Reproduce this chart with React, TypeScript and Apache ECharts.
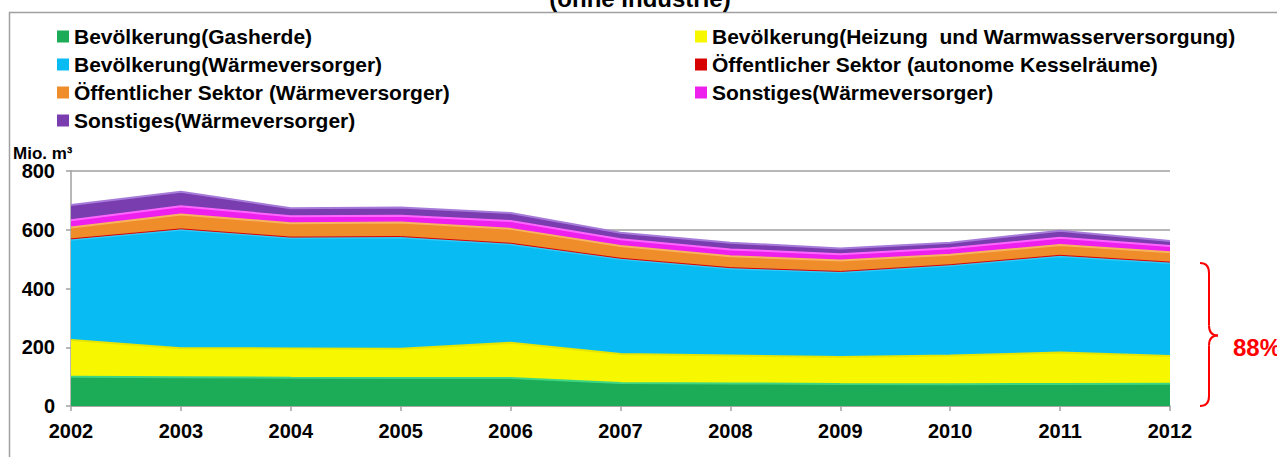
import React, { useEffect, useRef } from "react";
import * as echarts from "echarts";

const years = ["2002", "2003", "2004", "2005", "2006", "2007", "2008", "2009", "2010", "2011", "2012"];
const gasherde = [100, 98, 96, 95, 95, 78, 77, 75, 74, 75, 76];
const heizung = [125, 99, 100, 100, 120, 99, 95, 92, 98, 107, 94];
const waermeBev = [341, 403, 376, 379, 336, 323, 296, 288, 306, 328, 317];
const kessel = [3, 3, 3, 3, 3, 3, 3, 3, 3, 3, 3];
const waermeOeff = [39, 49, 47, 48, 49, 42, 39, 37, 34, 35, 33];
const sonstigesA = [24, 28, 24, 23, 27, 23, 23, 22, 22, 25, 22];
const sonstigesB = [52, 49, 27, 28, 27, 22, 23, 19, 19, 24, 17];
const yTicks = [0, 200, 400, 600, 800];

const N_GAS = "Bevölkerung(Gasherde)";
const N_HEIZ = "Bevölkerung(Heizung  und Warmwasserversorgung)";
const N_BLUE = "Bevölkerung(Wärmeversorger)";
const N_RED = "Öffentlicher Sektor (autonome Kesselräume)";
const N_ORANGE = "Öffentlicher Sektor (Wärmeversorger)";
const N_MAG = "Sonstiges(Wärmeversorger)";
const N_PUR = "Sonstiges(Wärmeversorger)#2";

const FONT = "'Liberation Sans', Arial, sans-serif";

export default function App() {
  const ref = useRef<HTMLDivElement>(null);
  useEffect(() => {
    const chart = echarts.init(ref.current!, null, { renderer: "svg" });
    const mk = (name: string, data: number[], color: string, lineColor: string, lw = 2) => ({
      name,
      type: "line",
      stack: "total",
      data,
      symbol: "none",
      showSymbol: false,
      silent: true,
      lineStyle: { color: lineColor, width: lw },
      areaStyle: { color, opacity: 1 },
      itemStyle: { color },
      emphasis: { disabled: true },
    });
    const legendCommon = {
      orient: "vertical",
      icon: "rect",
      itemWidth: 12,
      itemHeight: 12,
      itemGap: 7,
      selectedMode: false,
      formatter: (n: string) => n.replace(/#\d$/, ""),
      textStyle: { fontFamily: FONT, fontSize: 21, fontWeight: "bold", color: "#000", lineHeight: 21 },
    };
    const axisColor = "#a0a0a0";
    chart.setOption({
      animation: false,
      backgroundColor: "#ffffff",
      textStyle: { fontFamily: FONT },
      grid: { left: 71, right: 107, top: 171, bottom: 51, containLabel: false },
      legend: [
        { ...legendCommon, left: 52, top: 21, data: [N_GAS, N_BLUE, N_ORANGE, N_PUR] },
        { ...legendCommon, left: 690, top: 21, data: [N_HEIZ, N_RED, N_MAG] },
      ],
      xAxis: {
        type: "category",
        data: years,
        boundaryGap: false,
        axisLine: { lineStyle: { color: axisColor, width: 1.5 } },
        axisTick: { show: true, length: 5, lineStyle: { color: axisColor, width: 1.5 } },
        axisLabel: { color: "#000", fontWeight: "bold", fontSize: 20, margin: 15, fontFamily: FONT },
        splitLine: { show: false },
      },
      yAxis: {
        type: "value",
        min: yTicks[0],
        max: yTicks[yTicks.length - 1],
        interval: 200,
        axisLine: { show: true, lineStyle: { color: axisColor, width: 1.5 } },
        axisTick: { show: true, length: 5, lineStyle: { color: axisColor, width: 1.5 } },
        axisLabel: { color: "#000", fontWeight: "bold", fontSize: 20, margin: 16, fontFamily: FONT },
        splitLine: { show: true, lineStyle: { color: axisColor, width: 1.5 } },
      },
      series: [
        mk(N_GAS, gasherde, "#1cab57", "#3fd683"),
        mk(N_HEIZ, heizung, "#f7f700", "#e6e600"),
        mk(N_BLUE, waermeBev, "#08bcf3", "#30caf8"),
        mk(N_RED, kessel, "#d60000", "#e00000", 1),
        mk(N_ORANGE, waermeOeff, "#ee8d2a", "#f8b45c"),
        mk(N_MAG, sonstigesA, "#ee20ee", "#ff66ff"),
        mk(N_PUR, sonstigesB, "#7a3db0", "#a67ad8"),
      ],
    });

    const last = years.length - 1;
    const baseTop = gasherde[last] + heizung[last] + waermeBev[last];
    const total = baseTop + kessel[last] + waermeOeff[last] + sonstigesA[last] + sonstigesB[last];
    const pct = Math.round((baseTop / total) * 100 + 1.3);
    const yTop = chart.convertToPixel({ yAxisIndex: 0 }, baseTop) as number;
    const yBot = chart.convertToPixel({ yAxisIndex: 0 }, 0) as number;
    const xEnd = chart.convertToPixel({ xAxisIndex: 0 }, years[last]) as number;
    const x0 = xEnd + 30;
    const xm = x0 + 9;
    const xt = x0 + 18;
    const ym = (yTop + yBot) / 2 + 1;
    const r = 10;
    const bs = { stroke: "#ff0000", lineWidth: 2, fill: "none" };

    chart.setOption({
      graphic: [
        {
          type: "rect",
          z: -10,
          shape: { x: 9.5, y: 12.5, width: 1500, height: 700 },
          style: { fill: "none", stroke: "#a0a0a0", lineWidth: 1.5 },
        },
        {
          type: "text",
          x: 640,
          y: 10,
          style: {
            text: "(ohne Industrie)",
            font: `bold 24px ${FONT}`,
            fill: "#000",
            textAlign: "center",
            textVerticalAlign: "bottom",
          },
        },
        {
          type: "text",
          x: 13,
          y: 153,
          style: {
            text: "Mio. m³",
            font: `bold 17px ${FONT}`,
            fill: "#000",
            textAlign: "left",
            textVerticalAlign: "middle",
          },
        },
        { type: "bezierCurve", shape: { x1: x0, y1: yTop, cpx1: xm, cpy1: yTop, x2: xm, y2: yTop + r }, style: bs },
        { type: "line", shape: { x1: xm, y1: yTop + r, x2: xm, y2: ym - r }, style: bs },
        { type: "bezierCurve", shape: { x1: xm, y1: ym - r, cpx1: xm, cpy1: ym, x2: xt, y2: ym }, style: bs },
        { type: "bezierCurve", shape: { x1: xt, y1: ym, cpx1: xm, cpy1: ym, x2: xm, y2: ym + r }, style: bs },
        { type: "line", shape: { x1: xm, y1: ym + r, x2: xm, y2: yBot - r }, style: bs },
        { type: "bezierCurve", shape: { x1: xm, y1: yBot - r, cpx1: xm, cpy1: yBot, x2: x0, y2: yBot }, style: bs },
        {
          type: "text",
          x: xt + 15,
          y: ym + 12,
          style: {
            text: `${pct}%`,
            font: `bold 24px ${FONT}`,
            fill: "#ff0000",
            textAlign: "left",
            textVerticalAlign: "middle",
          },
        },
      ],
    });
    return () => chart.dispose();
  }, []);
  return <div ref={ref} style={{ position: "absolute", left: 0, top: 0, width: 1277, height: 457 }} />;
}
